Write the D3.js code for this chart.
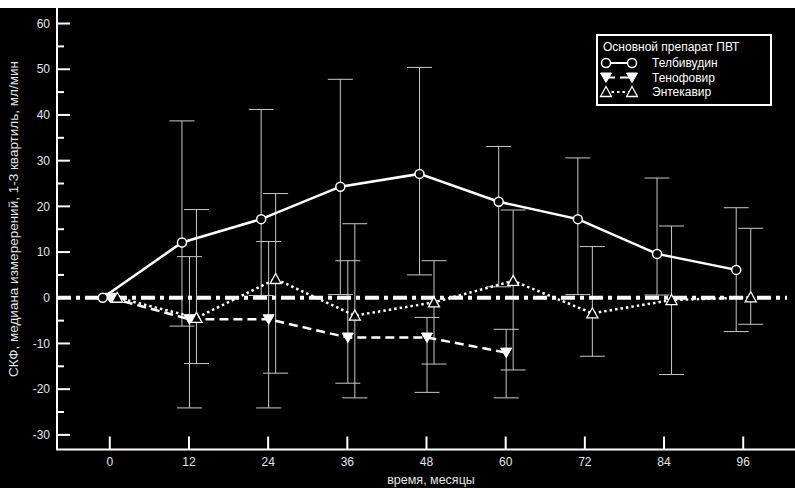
<!DOCTYPE html>
<html>
<head>
<meta charset="utf-8">
<script src="https://cdn.jsdelivr.net/npm/d3@7"></script>
<style>
  html, body { margin: 0; padding: 0; background: #000; }
  svg { display: block; font-family: "Liberation Sans", Arial, sans-serif; }
  .tick-label { fill: #e6e6e6; font-size: 12px; }
  .err { stroke: #c8c8c8; stroke-width: 1; fill: none; }
</style>
</head>
<body>
<div id="chart"></div>
<script>
// Months on the x axis
const months = [0, 12, 24, 36, 48, 60, 72, 84, 96];

// Телбивудин: median, 1st and 3rd quartile
const telbMedian = [0, 12.1, 17.2, 24.3, 27.1, 21.0, 17.2, 9.6, 6.1];
const telbQ1 = [null, -6.2, 0.5, 0.7, 5.0, 2.4, 0.7, 0.6, -7.4];
const telbQ3 = [null, 38.7, 41.2, 47.8, 50.4, 33.1, 30.6, 26.2, 19.7];

// Тенофовир (data only up to 60 months)
const tenoMedian = [0, -4.7, -4.7, -8.7, -8.7, -12.0];
const tenoQ1 = [null, -24.1, -24.1, -18.7, -20.7, -21.9];
const tenoQ3 = [null, 9.0, 12.3, 8.1, -4.3, -6.9];

// Энтекавир
const enteMedian = [0, -4.4, 4.1, -3.9, -1.0, 3.7, -3.4, -0.5, 0.1];
const enteQ1 = [null, -14.4, -16.5, -21.9, -14.5, -15.8, -12.8, -16.8, -5.8];
const enteQ3 = [null, 19.3, 22.8, 16.2, 8.1, 19.2, 11.2, 15.7, 15.2];

const yMajorTicks = [-30, -20, -10, 0, 10, 20, 30, 40, 50, 60];
const yMinorTicks = [-25, -15, -5, 5, 15, 25, 35, 45, 55];

const legendTitle = "Основной препарат ПВТ";
const xTitle = "время, месяцы";
const yTitle = "СКФ, медиана измеререний, 1-3 квартиль, мл/мин";

(function () {
const width = 795, height = 488;

const svg = d3.select("#chart").append("svg")
  .attr("width", width)
  .attr("height", height);

svg.append("rect").attr("width", width).attr("height", height).attr("fill", "#000");
// thin light strip at the very top of the picture
svg.append("rect").attr("width", width).attr("height", 8).attr("fill", "#fff");

const x = d3.scaleLinear().domain([-8, 104]).range([57, 796]);
const y = d3.scaleLinear().domain([-33.2, 63.4]).range([449.5, 8]);

const plotLeft = 57, plotBottom = 449.5, plotRight = 795, plotTop = 8;

// build one series object per drug
function makeSeries(name, med, q1, q3, dx) {
  return med.map((v, i) => ({ name, m: months[i], v, lo: q1[i], hi: q3[i], dx }));
}
const series = [
  { key: "telb", label: "Телбивудин", pts: makeSeries("telb", telbMedian, telbQ1, telbQ3, -7), dash: null },
  { key: "teno", label: "Тенофовир", pts: makeSeries("teno", tenoMedian, tenoQ1, tenoQ3, 0.5), dash: "9,5" },
  { key: "ente", label: "Энтекавир", pts: makeSeries("ente", enteMedian, enteQ1, enteQ3, 7.5), dash: "2.5,3" }
];

// ----- error bars -----
const gErr = svg.append("g");
series.forEach(s => {
  const bars = s.pts.filter(d => d.lo != null && d.hi != null);
  const g = gErr.selectAll(null).data(bars).enter().append("g");
  g.append("line").attr("class", "err")
    .attr("x1", d => x(d.m) + d.dx).attr("x2", d => x(d.m) + d.dx)
    .attr("y1", d => y(d.hi)).attr("y2", d => y(d.lo));
  [d => d.hi, d => d.lo].forEach(acc => {
    g.append("line").attr("class", "err")
      .attr("x1", d => x(d.m) + d.dx - 12.5).attr("x2", d => x(d.m) + d.dx + 12.5)
      .attr("y1", d => y(acc(d))).attr("y2", d => y(acc(d)));
  });
});

// ----- zero reference line -----
svg.append("line")
  .attr("x1", plotLeft).attr("x2", 787)
  .attr("y1", y(0)).attr("y2", y(0))
  .attr("stroke", "#fff").attr("stroke-width", 4)
  .attr("stroke-dasharray", "14,5,4,5");

// ----- axes frame -----
svg.append("line").attr("x1", plotLeft).attr("x2", plotLeft).attr("y1", plotTop).attr("y2", plotBottom)
  .attr("stroke", "#fff").attr("stroke-width", 2);
svg.append("line").attr("x1", plotLeft - 1).attr("x2", plotRight).attr("y1", plotBottom).attr("y2", plotBottom)
  .attr("stroke", "#fff").attr("stroke-width", 2);

// y ticks (pointing inward)
svg.selectAll("line.ymaj").data(yMajorTicks).enter().append("line")
  .attr("x1", plotLeft).attr("x2", plotLeft + 13)
  .attr("y1", d => y(d)).attr("y2", d => y(d))
  .attr("stroke", "#fff").attr("stroke-width", 2);
svg.selectAll("line.ymin").data(yMinorTicks).enter().append("line")
  .attr("x1", plotLeft).attr("x2", plotLeft + 7)
  .attr("y1", d => y(d)).attr("y2", d => y(d))
  .attr("stroke", "#fff").attr("stroke-width", 2);
svg.selectAll("text.ylab").data(yMajorTicks).enter().append("text")
  .attr("class", "tick-label")
  .attr("x", 50).attr("y", d => y(d)).attr("dy", "0.35em")
  .attr("text-anchor", "end")
  .text(d => d);

// x ticks
svg.selectAll("line.xt").data(months).enter().append("line")
  .attr("x1", d => x(d)).attr("x2", d => x(d))
  .attr("y1", plotBottom).attr("y2", plotBottom - 13)
  .attr("stroke", "#fff").attr("stroke-width", 2);
svg.selectAll("text.xlab").data(months).enter().append("text")
  .attr("class", "tick-label")
  .attr("x", d => x(d)).attr("y", 466)
  .attr("text-anchor", "middle")
  .text(d => d);

svg.append("text").attr("class", "tick-label")
  .attr("x", 431).attr("y", 484).attr("text-anchor", "middle")
  .style("font-size", "12.5px")
  .text(xTitle);
svg.append("text").attr("class", "tick-label")
  .attr("transform", "translate(18,219) rotate(-90)")
  .attr("text-anchor", "middle")
  .style("font-size", "13.5px")
  .text(yTitle);

// ----- series lines -----
const line = d3.line().x(d => x(d.m) + d.dx).y(d => y(d.v));
series.forEach(s => {
  svg.append("path")
    .datum(s.pts)
    .attr("d", line)
    .attr("fill", "none")
    .attr("stroke", "#fff")
    .attr("stroke-width", 2.5)
    .attr("stroke-dasharray", s.dash);
});

// ----- markers -----
function triDown(cx, cy) { return `M${cx - 5.5},${cy - 4.5}L${cx + 5.5},${cy - 4.5}L${cx},${cy + 5}Z`; }
function triUp(cx, cy) { return `M${cx - 5.5},${cy + 4.5}L${cx + 5.5},${cy + 4.5}L${cx},${cy - 5.5}Z`; }

function drawMarker(g, key, cx, cy) {
  if (key === "telb") {
    g.append("circle").attr("cx", cx).attr("cy", cy).attr("r", 4.5)
      .attr("fill", "#000").attr("stroke", "#fff").attr("stroke-width", 1.5);
  } else if (key === "teno") {
    g.append("path").attr("d", triDown(cx, cy)).attr("fill", "#fff").attr("stroke", "#fff");
  } else {
    g.append("path").attr("d", triUp(cx, cy)).attr("fill", "#000")
      .attr("stroke", "#fff").attr("stroke-width", 1.3);
  }
}

const gMarkers = svg.append("g");
// draw in reverse so circles stay on top at month 0
series.slice().reverse().forEach(s => {
  s.pts.forEach(d => drawMarker(gMarkers, s.key, x(d.m) + d.dx, y(d.v)));
});

// ----- legend -----
const gLeg = svg.append("g");
gLeg.append("rect")
  .attr("x", 597).attr("y", 35).attr("width", 174).attr("height", 70)
  .attr("fill", "#000").attr("stroke", "#fff").attr("stroke-width", 2);
gLeg.append("text").attr("x", 603).attr("y", 51)
  .attr("fill", "#fff").style("font-size", "12px")
  .text(legendTitle);
series.forEach((s, i) => {
  const ly = 63 + i * 14.5;
  gLeg.append("line").attr("x1", 606).attr("x2", 632).attr("y1", ly).attr("y2", ly)
    .attr("stroke", "#fff").attr("stroke-width", 2).attr("stroke-dasharray", s.dash);
  drawMarker(gLeg, s.key, 606, ly);
  drawMarker(gLeg, s.key, 632, ly);
  gLeg.append("text").attr("x", 652).attr("y", ly).attr("dy", "0.35em")
    .attr("fill", "#fff").style("font-size", "12px")
    .text(s.label);
});
})();
</script>
</body>
</html>
